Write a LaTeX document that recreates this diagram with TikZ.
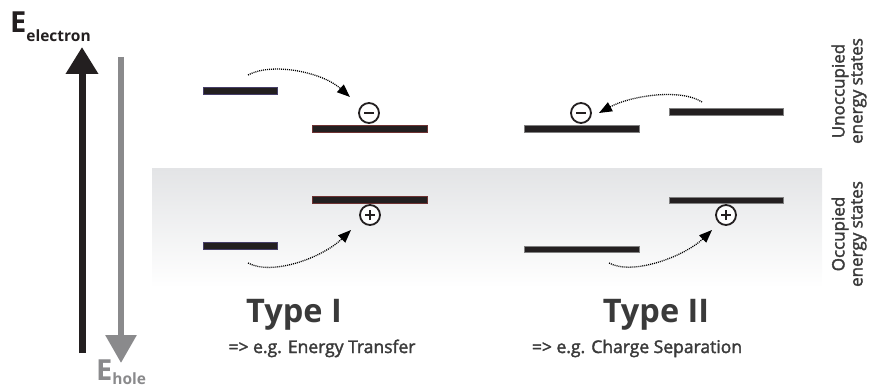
\documentclass[tikz,border=0pt]{standalone}
\usepackage{fontspec}
\setmainfont{Open Sans}
\newfontfamily\semib[FakeBold=2]{Open Sans}
\usetikzlibrary{arrows.meta}
\definecolor{ink}{RGB}{35,31,32}
\definecolor{txt}{RGB}{58,58,58}
\definecolor{axgray}{RGB}{138,138,140}
\definecolor{band}{RGB}{227,228,230}
\definecolor{redrim}{RGB}{110,50,50}
\definecolor{bluerim}{RGB}{70,62,105}
\begin{document}
\begin{tikzpicture}[x=1pt,y=-1pt,
  level/.style={draw=gray, line width=0.5pt, fill=ink, minimum height=6.5pt, inner sep=0pt, outer sep=0pt},
  charge/.style={circle, draw=ink, line width=1.8pt, fill=white, minimum size=20pt, inner sep=0pt},
  hop/.style={line width=1.3pt, dash pattern=on 1pt off 1pt, -{Triangle[width=10pt 0,length=13pt 0]}},
  sign/.style={line width=2.2pt, ink},
  typetitle/.style={font=\fontsize{32.5}{32.5}\selectfont\bfseries, text=txt, anchor=base, inner sep=0pt},
  subtitle/.style={font=\fontsize{17.5}{17.5}\semib, text=txt, anchor=base, inner sep=0pt},
  sidelabel/.style={font=\fontsize{17}{18}\semib, text=txt, rotate=90, align=center, inner sep=0pt}
]
\useasboundingbox (0,0) rectangle (874,390);
% band
\shade[top color=band, bottom color=white] (152,168) rectangle (822,288);

% axes
\coordinate (eb) at (82,353);
\coordinate (et) at (82,47);
\coordinate (hb) at (121,363);
\coordinate (ht) at (121,57);
\draw[ink, line width=7pt, -{Triangle[width=31pt 0,length=27pt 0]}] (eb) -- (et);
\draw[axgray, line width=6pt, -{Triangle[width=30pt 0,length=28pt 0]}] (ht) -- (hb);

\node[anchor=base west, inner sep=0pt, text=ink] (elab) at (10,33)
  {\fontsize{29}{29}\selectfont\bfseries E\raisebox{-9pt}{\fontsize{15.5}{15.5}\selectfont electron}};
\node[anchor=base west, inner sep=0pt, text=axgray] (hlab) at (96,380)
  {\fontsize{29}{29}\selectfont\bfseries E\raisebox{-4pt}{\fontsize{15.5}{15.5}\selectfont hole}};

% Type I levels
\node[level, draw=bluerim, minimum width=74pt] (d1l) at (240,91) {};
\node[level, draw=redrim, minimum width=115pt] (a1l) at (369.5,129) {};
\node[level, draw=redrim, minimum width=115pt] (a1h) at (369.5,199.5) {};
\node[level, draw=bluerim, minimum width=74pt] (d1h) at (240,245.5) {};

% Type II levels
\node[level, minimum width=115pt] (d2l) at (581.5,129) {};
\node[level, minimum width=114pt] (a2l) at (726,112) {};
\node[level, minimum width=114pt] (a2h) at (726,200) {};
\node[level, minimum width=115pt] (d2h) at (581.5,249) {};

% charges
\node[charge] (m1) at (369,113) {};
\node[charge] (p1) at (370,215) {};
\node[charge] (m2) at (581,113) {};
\node[charge] (p2) at (726,215) {};
\foreach \c in {m1,p1,m2,p2} {\draw[sign] ([xshift=-5pt]\c.center) -- ([xshift=5pt]\c.center);}
\foreach \c in {p1,p2} {\draw[sign] ([yshift=-5pt]\c.center) -- ([yshift=5pt]\c.center);}

% hops
\coordinate (s1) at (248,75);   \coordinate (t1) at (350,97);
\coordinate (s2) at (248,263);  \coordinate (t2) at (351,230);
\coordinate (s3) at (702,102);  \coordinate (t3) at (599,113);
\coordinate (s4) at (609,263);  \coordinate (t4) at (712,230);
\draw[hop] (s1) .. controls (272,62) and (322,72) .. (t1);
\draw[hop] (s2) .. controls (272,276) and (322,258) .. (t2);
\draw[hop] (s3) .. controls (680,88) and (630,96) .. (t3);
\draw[hop] (s4) .. controls (633,276) and (685,256) .. (t4);

% titles
\node[typetitle] (ty1) at (294,322) {Type I};
\node[subtitle] (st1) at (322,353) {=> e.g. Energy Transfer};
\node[typetitle] (ty2) at (656,322) {Type II};
\node[subtitle] (st2) at (637,353) {=> e.g. Charge Separation};

% side labels
\node[sidelabel] (un) at (849,91) {Unoccupied\\energy states};
\node[sidelabel] (oc) at (849,234) {Occupied\\energy states};
\end{tikzpicture}
\end{document}
